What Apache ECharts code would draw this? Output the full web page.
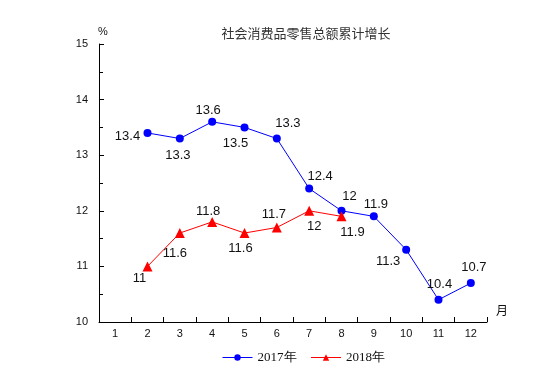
<!DOCTYPE html>
<html>
<head>
<meta charset="utf-8">
<script src="https://cdn.jsdelivr.net/npm/echarts@6/dist/echarts.min.js"></script>
<style>html,body{margin:0;padding:0;background:#fff;}#c{width:555px;height:385px;}</style>
</head>
<body>
<div id="c"></div>
<script>
var months = ['1','2','3','4','5','6','7','8','9','10','11','12'];
var yTicks = [10, 11, 12, 13, 14, 15];
var series2017 = [null, 13.4, 13.3, 13.6, 13.5, 13.3, 12.4, 12, 11.9, 11.3, 10.4, 10.7];
var series2018 = [null, 11, 11.6, 11.8, 11.6, 11.7, 12, 11.9, null, null, null, null];
var names = ['2017年', '2018年'];
var titleText = '社会消费品零售总额累计增长';

// label offsets (style only) relative to each point centre
var off2017 = [null, [-20,3], [-2,17], [-4,-11], [-9,16], [11,-15], [11,-12], [8,-14], [2,-12], [-18,12], [1,-15], [3,-16]];
var off2018 = [null, [-8,12], [-5,20], [-4,-10], [-4,15], [-3,-13], [5,16], [11,16], null, null, null, null];

function build(vals, offs) {
  return vals.map(function (v, i) {
    if (v === null) return null;
    return { value: v, label: { offset: offs[i] } };
  });
}

var labelStyle = {
  show: true, position: 'inside', align: 'center', verticalAlign: 'middle',
  fontFamily: 'Liberation Sans', fontSize: 13, color: '#111'
};

var chart = echarts.init(document.getElementById('c'), null, { renderer: 'canvas' });
chart.setOption({
  animation: false,
  backgroundColor: '#fff',
  title: {
    text: titleText, left: 301, top: 22, textAlign: 'center',
    textStyle: { fontFamily: 'Noto Sans CJK SC', fontSize: 13, fontWeight: 'normal', color: '#333' }
  },
  legend: {
    left: 217, top: 346, itemWidth: 30, itemHeight: 8, itemGap: 14,
    data: names, lineStyle: { width: 1 },
    textStyle: { fontFamily: 'Liberation Serif', fontSize: 13, color: '#111' }
  },
  grid: { left: 99, right: 68, top: 44, bottom: 63, containLabel: false },
  xAxis: {
    type: 'category', data: months, boundaryGap: true,
    axisLine: { show: true, lineStyle: { color: '#000', width: 1 } },
    axisTick: { show: true, inside: true, length: 5, alignWithLabel: false, lineStyle: { color: '#000', width: 1 } },
    axisLabel: { fontFamily: 'Liberation Sans', fontSize: 11, color: '#111', margin: 6 },
    splitLine: { show: false }
  },
  yAxis: {
    type: 'value', min: yTicks[0], max: yTicks[yTicks.length - 1], interval: 1,
    axisLine: { show: true, lineStyle: { color: '#000', width: 1 } },
    axisTick: { show: true, inside: true, length: 5, lineStyle: { color: '#000', width: 1 } },
    minorTick: { show: true, splitNumber: 2, length: 4, lineStyle: { color: '#000', width: 1 } },
    axisLabel: { fontFamily: 'Liberation Sans', fontSize: 11, color: '#111', margin: 11 },
    splitLine: { show: false }
  },
  graphic: [
    { type: 'text', left: 98, top: 26, style: { text: '%', fontFamily: 'Liberation Sans', fontSize: 11, fill: '#111' } },
    { type: 'text', left: 496, top: 304, style: { text: '月', fontFamily: 'Noto Sans CJK SC', fontSize: 12, fill: '#111' } }
  ],
  series: [
    {
      name: names[0], type: 'line', data: build(series2017, off2017),
      symbol: 'circle', symbolSize: 8, connectNulls: false,
      itemStyle: { color: '#0000FF' }, lineStyle: { color: '#0000FF', width: 1 },
      label: labelStyle
    },
    {
      name: names[1], type: 'line', data: build(series2018, off2018),
      symbol: 'triangle', symbolSize: 10, connectNulls: false,
      itemStyle: { color: '#FF0000' }, lineStyle: { color: '#FF0000', width: 1 },
      label: labelStyle
    }
  ]
});
</script>
</body>
</html>
